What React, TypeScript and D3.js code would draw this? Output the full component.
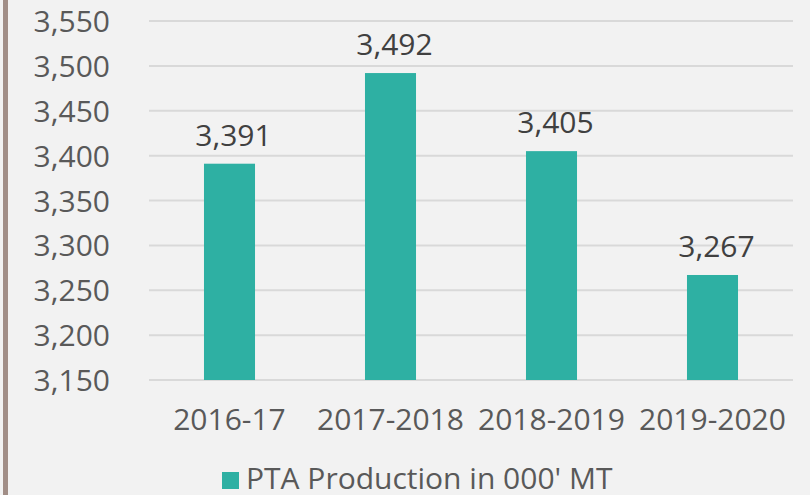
import React from "react";
import * as d3 from "d3";

const categories = ["2016-17", "2017-2018", "2018-2019", "2019-2020"];
const values = [3391, 3492, 3405, 3267];
const yTicks = [3150, 3200, 3250, 3300, 3350, 3400, 3450, 3500, 3550];
const seriesName = "PTA Production in 000' MT";

const W = 810;
const H = 495;
const FONT = "'Open Sans', sans-serif";

export default function App() {
  const x = d3.scaleBand<string>().domain(categories).range([149, 793]).paddingInner(0.683).paddingOuter(0.3415);
  const y = d3.scaleLinear().domain([3150, 3550]).range([380, 21]);
  const fmt = d3.format(",");
  return (
    <svg width={W} height={H} style={{ position: "absolute", left: 0, top: 0, display: "block" }}>
      <rect x={0} y={0} width={W} height={H} fill="#f2f2f2" />
      <rect x={3} y={0} width={5} height={H} fill="#a18e87" />
      {yTicks.map((t) => (
        <g key={t}>
          <line x1={149} x2={793} y1={y(t)} y2={y(t)} stroke="#d9d9d9" strokeWidth={2} />
          <text x={110} y={y(t) + 11} textAnchor="end" fontFamily={FONT} fontSize={30} fill="#595959">
            {fmt(t)}
          </text>
        </g>
      ))}
      {categories.map((c, i) => (
        <g key={c}>
          <rect x={x(c)} y={y(values[i])} width={x.bandwidth()} height={y(3150) - y(values[i])} fill="#2eb0a3" />
          <text x={x(c)! + x.bandwidth() / 2 + 4} y={y(values[i]) - 18} textAnchor="middle" fontFamily={FONT} fontSize={30} fill="#404040">
            {fmt(values[i])}
          </text>
          <text x={x(c)! + x.bandwidth() / 2} y={430} textAnchor="middle" fontFamily={FONT} fontSize={30} fill="#595959">
            {c}
          </text>
        </g>
      ))}
      <rect x={222} y={472} width={17} height={17} fill="#2eb0a3" />
      <text x={246} y={489} fontFamily={FONT} fontSize={30} fill="#595959">
        {seriesName}
      </text>
    </svg>
  );
}
